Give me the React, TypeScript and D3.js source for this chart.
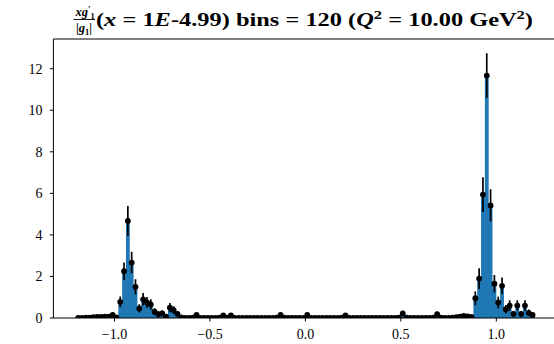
import React from "react";
import * as d3 from "d3";

const W = 554;
const H = 344;

const binLo = -1.2;
const binHi = 1.2;
const nBins = 120;

const values = [
  0.01, 0.01, 0.02, 0.02, 0.04, 0.05, 0.05, 0.06, 0.07, 0.15,
  0.03, 0.78, 2.25, 4.67, 2.67, 1.5, 0.46, 0.9, 0.75, 0.65,
  0.3, 0.18, 0.22, 0.06, 0.5, 0.38, 0.2, 0.03, 0.01, 0.01,
  0.02, 0.15, 0.01, 0.01, 0.01, 0.01, 0.01, 0.02, 0.12, 0.02,
  0.12, 0.01, 0.01, 0.01, 0.01, 0.01, 0.01, 0.01, 0.01, 0.01,
  0.01, 0.01, 0.02, 0.15, 0.02, 0.01, 0.01, 0.01, 0.01, 0.01,
  0.15, 0.01, 0.01, 0.01, 0.01, 0.01, 0.01, 0.01, 0.01, 0.02,
  0.12, 0.01, 0.01, 0.01, 0.01, 0.01, 0.01, 0.01, 0.01, 0.01,
  0.01, 0.01, 0.01, 0.01, 0.02, 0.22, 0.02, 0.01, 0.01, 0.01,
  0.01, 0.01, 0.01, 0.02, 0.18, 0.02, 0.01, 0.01, 0.02, 0.04,
  0.06, 0.1, 0.08, 0.05, 0.95, 1.9, 5.94, 11.67, 5.42, 1.65,
  0.75, 1.55, 0.42, 0.6, 0.2, 0.6, 0.2, 0.6, 0.25, 0.15,
];

const errors = [
  0.02, 0.02, 0.03, 0.03, 0.04, 0.05, 0.05, 0.05, 0.06, 0.1,
  0.04, 0.25, 0.42, 0.72, 0.52, 0.37, 0.2, 0.3, 0.26, 0.25,
  0.17, 0.13, 0.14, 0.06, 0.22, 0.19, 0.14, 0.04, 0.02, 0.02,
  0.03, 0.1, 0.02, 0.02, 0.02, 0.02, 0.02, 0.03, 0.1, 0.03,
  0.1, 0.02, 0.02, 0.02, 0.02, 0.02, 0.02, 0.02, 0.02, 0.02,
  0.02, 0.02, 0.03, 0.1, 0.03, 0.02, 0.02, 0.02, 0.02, 0.02,
  0.1, 0.02, 0.02, 0.02, 0.02, 0.02, 0.02, 0.02, 0.02, 0.03,
  0.1, 0.02, 0.02, 0.02, 0.02, 0.02, 0.02, 0.02, 0.02, 0.02,
  0.02, 0.02, 0.02, 0.02, 0.03, 0.13, 0.03, 0.02, 0.02, 0.02,
  0.02, 0.02, 0.02, 0.03, 0.12, 0.03, 0.02, 0.02, 0.03, 0.05,
  0.06, 0.08, 0.07, 0.05, 0.33, 0.5, 0.84, 1.08, 0.78, 0.42,
  0.28, 0.4, 0.2, 0.25, 0.14, 0.25, 0.14, 0.25, 0.16, 0.12,
];

const xTicks = [-1.0, -0.5, 0.0, 0.5, 1.0];
const yTicks = [0, 2, 4, 6, 8, 10, 12];

const xDomain = [-1.32, 1.32];
const yDomain = [0, 13.43];

const FONT = "'Liberation Serif', 'Times New Roman', serif";

export default function App() {
  const x = d3.scaleLinear().domain(xDomain).range([53.4, 557.4]);
  const y = d3.scaleLinear().domain(yDomain).range([318, 39]);
  const step = (binHi - binLo) / nBins;
  const bins = d3.range(nBins).map((i) => ({
    lo: binLo + i * step,
    hi: binLo + (i + 1) * step,
    c: binLo + (i + 0.5) * step,
    v: values[i],
    e: errors[i],
  }));
  const stepPts = [
    ...bins.map((b) => ({ x: b.lo, v: b.v })),
    { x: binHi, v: values[nBins - 1] },
  ];
  const area = d3
    .area<{ x: number; v: number }>()
    .curve(d3.curveStepAfter)
    .x((d) => x(d.x))
    .y0(y(0))
    .y1((d) => y(d.v));

  const fmt = (t: number) => (t < 0 ? "\u2212" : "") + Math.abs(t).toFixed(1);
  const left = x(xDomain[0]);
  const right = x(xDomain[1]);
  const top = y(yDomain[1]);
  const bottom = y(0);

  return (
    <svg
      width={W}
      height={H}
      style={{ position: "absolute", left: 0, top: 0, background: "#fff" }}
    >
      <defs>
        <clipPath id="plotclip">
          <rect x={left} y={top} width={right - left} height={bottom - top} />
        </clipPath>
      </defs>
      <rect x={0} y={0} width={W} height={H} fill="#fff" />
      <g clipPath="url(#plotclip)">
        <path d={area(stepPts) || ""} fill="#1f77b4" />
        {bins.map((b, i) => (
          <line
            key={"e" + i}
            x1={x(b.c)}
            x2={x(b.c)}
            y1={y(b.v + b.e)}
            y2={y(b.v - b.e)}
            stroke="#000"
            strokeWidth={1.7}
          />
        ))}
        {bins.map((b, i) => (
          <circle key={"p" + i} cx={x(b.c)} cy={y(b.v)} r={2.9} fill="#000" />
        ))}
      </g>
      {/* spines */}
      <g stroke="#000" strokeWidth={1} fill="none">
        <line x1={left} x2={left} y1={top} y2={bottom} />
        <line x1={left} x2={right} y1={bottom} y2={bottom} />
        <line x1={left} x2={right} y1={top} y2={top} />
        <line x1={right} x2={right} y1={top} y2={bottom} />
      </g>
      {/* x ticks */}
      {xTicks.map((t) => (
        <g key={"xt" + t}>
          <line x1={x(t)} x2={x(t)} y1={bottom} y2={bottom + 3.5} stroke="#000" strokeWidth={1} />
          <text
            x={x(t)}
            y={bottom + 21}
            textAnchor="middle"
            fontFamily={FONT}
            fontSize={14}
            fill="#000"
          >
            {fmt(t)}
          </text>
        </g>
      ))}
      {/* y ticks */}
      {yTicks.map((t) => (
        <g key={"yt" + t}>
          <line x1={left - 3.5} x2={left} y1={y(t)} y2={y(t)} stroke="#000" strokeWidth={1} />
          <text
            x={left - 11}
            y={y(t) + 4.8}
            textAnchor="end"
            fontFamily={FONT}
            fontSize={14}
            fill="#000"
          >
            {t}
          </text>
        </g>
      ))}
      {/* title */}
      <g fontFamily={FONT} fontWeight="bold" fill="#000">
        <text x={75.5} y={15.5} fontSize={12.5}>
          <tspan fontStyle="italic">xg</tspan>
          <tspan dy={-4} fontSize={9}>′</tspan>
          <tspan dy={7} fontSize={8.5}>1</tspan>
        </text>
        <line x1={73.5} x2={95} y1={19.5} y2={19.5} stroke="#000" strokeWidth={0.9} />
        <text x={84} y={32} textAnchor="middle" fontSize={12.5}>
          <tspan>|</tspan>
          <tspan fontStyle="italic">g</tspan>
          <tspan dy={2.5} fontSize={8.5}>1</tspan>
          <tspan dy={-2.5}>|</tspan>
        </text>
        <text
          x={96}
          y={26}
          fontSize={18.5}
          textLength={437}
          lengthAdjust="spacingAndGlyphs"
        >
          <tspan>(</tspan>
          <tspan fontStyle="italic">x</tspan>
          <tspan> = 1</tspan>
          <tspan fontStyle="italic">E</tspan>
          <tspan>-4.99) bins = 120 (</tspan>
          <tspan fontStyle="italic">Q</tspan>
          <tspan dy={-7.5} fontSize={12.5}>2</tspan>
          <tspan dy={7.5}> = 10.00 GeV</tspan>
          <tspan dy={-7.5} fontSize={12.5}>2</tspan>
          <tspan dy={7.5}>)</tspan>
        </text>
      </g>
    </svg>
  );
}
